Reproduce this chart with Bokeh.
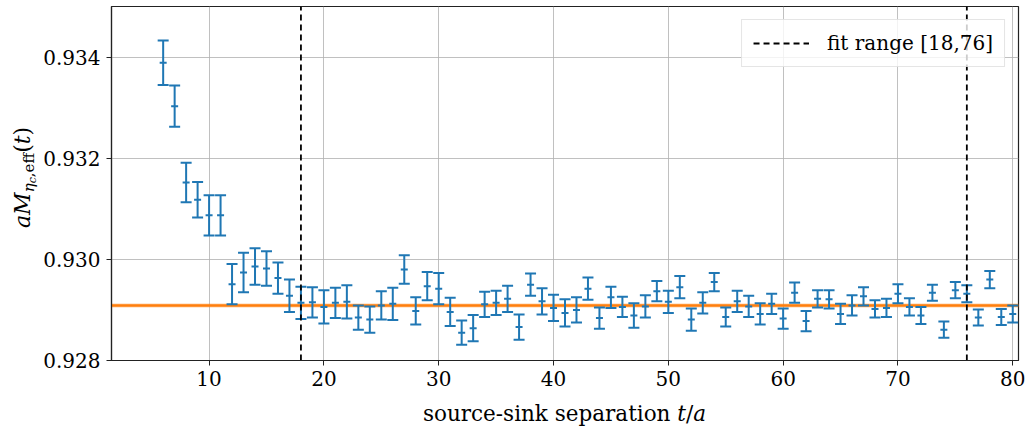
from bokeh.plotting import figure
from bokeh.layouts import row, column
from bokeh.models import Div, Range1d, FixedTicker, NumeralTickFormatter
from bokeh.embed import file_html
from bokeh.resources import INLINE

# ---------------- data ----------------
t = list(range(6, 81))
m_eff = [
    0.93389, 0.93303, 0.93152, 0.93118, 0.93087, 0.93087, 0.92951, 0.92974,
    0.92986, 0.92982, 0.92963, 0.92928, 0.92914, 0.92915, 0.92906, 0.92914,
    0.92916, 0.92885, 0.92881, 0.92909, 0.92912, 0.92980, 0.92898, 0.92947,
    0.92942, 0.92896, 0.92855, 0.92864, 0.92911, 0.92914, 0.92922, 0.92866,
    0.92950, 0.92917, 0.92904, 0.92894, 0.92900, 0.92942, 0.92884, 0.92925,
    0.92906, 0.92889, 0.92907, 0.92937, 0.92916, 0.92945, 0.92881, 0.92914,
    0.92955, 0.92886, 0.92917, 0.92907, 0.92892, 0.92912, 0.92883, 0.92934,
    0.92878, 0.92922, 0.92921, 0.92892, 0.92909, 0.92927, 0.92902, 0.92904,
    0.92932, 0.92906, 0.92889, 0.92934, 0.92861, 0.92939, 0.92932, 0.92885,
    0.92960, 0.92886, 0.92892,
]
m_err = [
    0.00044, 0.00041, 0.00039, 0.00035, 0.00040, 0.00040, 0.00040, 0.00039,
    0.00036, 0.00034, 0.00031, 0.00032, 0.00032, 0.00030, 0.00033, 0.00030,
    0.00033, 0.00024, 0.00026, 0.00028, 0.00032, 0.00028, 0.00027, 0.00028,
    0.00031, 0.00028, 0.00024, 0.00026, 0.00025, 0.00024, 0.00026, 0.00025,
    0.00022, 0.00026, 0.00026, 0.00027, 0.00025, 0.00022, 0.00021, 0.00021,
    0.00020, 0.00024, 0.00022, 0.00020, 0.00022, 0.00022, 0.00022, 0.00021,
    0.00018, 0.00019, 0.00021, 0.00021, 0.00021, 0.00020, 0.00020, 0.00020,
    0.00020, 0.00017, 0.00018, 0.00020, 0.00020, 0.00018, 0.00017, 0.00018,
    0.00019, 0.00017, 0.00017, 0.00016, 0.00016, 0.00016, 0.00017, 0.00016,
    0.00017, 0.00016, 0.00017,
]
fit_value = 0.929089
fit_error = 0.00004
fit_range = [18, 76]
fit_label = "fit range [18,76]"
x_ticks = [10, 20, 30, 40, 50, 60, 70, 80]
y_ticks = [0.928, 0.930, 0.932, 0.934]
x_lim = (1.5, 80.5)
y_lim = (0.928, 0.935)
x_title_html = "source-sink separation <i>t</i>/<i>a</i>"
y_title_html = ('<i>aM</i><sub style="font-size:15px;vertical-align:-0.25em;"><i>&#951;</i>'
                '<sub style="font-size:11px;vertical-align:-0.2em;"><i>c</i></sub>,eff</sub>'
                '(<i>t</i>)')

BLUE = "#1f77b4"
ORANGE = "#ff7f0e"
FONT = "DejaVu Serif"

W, H = 1026, 426
DIVW = 40          # width of the y-title column
XLABH = 30         # height of the x-title row
FL, FT, FW, FH = 111, 6, 907, 354
p = figure(frame_width=FW, frame_height=FH,
           x_range=Range1d(*x_lim), y_range=Range1d(*y_lim),
           output_backend="svg", toolbar_location=None,
           min_border_left=FL - DIVW, min_border_right=W - FL - FW,
           min_border_top=FT, min_border_bottom=H - XLABH - FT - FH)
p.background_fill_color = "white"
p.border_fill_color = "white"
p.outline_line_color = "#222222"
p.outline_line_width = 1.2

# grid
for g, tk in ((p.xgrid, x_ticks), (p.ygrid, y_ticks)):
    g.ticker = FixedTicker(ticks=tk)
    g.grid_line_color = "#b0b0b0"
    g.grid_line_width = 1
    g.grid_line_alpha = 0.8

# axes
p.xaxis.ticker = FixedTicker(ticks=x_ticks)
p.yaxis.ticker = FixedTicker(ticks=y_ticks)
p.yaxis.formatter = NumeralTickFormatter(format="0.000")
for ax in (p.xaxis[0], p.yaxis[0]):
    ax.axis_line_color = "#222222"
    ax.axis_line_width = 1.2
    ax.major_tick_line_color = "#222222"
    ax.major_tick_out = 5
    ax.major_tick_in = 0
    ax.minor_tick_out = 0
    ax.minor_tick_in = 0
    ax.major_label_text_font = FONT
    ax.major_label_text_font_size = "20px"
    ax.major_label_text_color = "black"
    ax.major_label_standoff = 6
p.xaxis.major_label_standoff = 5

# fit band and line
p.hstrip(y0=[fit_value - fit_error], y1=[fit_value + fit_error],
         fill_color=ORANGE, fill_alpha=0.35, line_color=None)
p.hspan(y=[fit_value], line_color=ORANGE, line_width=2.6)

# error bars
lo = [m - e for m, e in zip(m_eff, m_err)]
hi = [m + e for m, e in zip(m_eff, m_err)]
p.segment(x0=t, y0=lo, x1=t, y1=hi, line_color=BLUE, line_width=2)
p.scatter(x=t + t, y=lo + hi, marker="dash", size=11, line_color=BLUE, line_width=2)
p.scatter(x=t, y=m_eff, marker="dash", size=7, line_color=BLUE, line_width=2)

# fit range lines
p.segment(x0=fit_range, x1=fit_range, y0=[y_lim[0]] * 2, y1=[y_lim[1]] * 2,
          line_color="black", line_dash="6 4", line_width=1.8,
          legend_label=fit_label)

lg = p.legend[0]
lg.location = "top_right"
lg.margin = 13
lg.padding = 11
lg.glyph_width = 56
lg.label_standoff = 18
lg.label_text_font = FONT
lg.label_text_font_size = "20px"
lg.label_text_color = "black"
lg.border_line_color = "#cccccc"
lg.border_line_width = 1
lg.background_fill_alpha = 0.8

# y-axis title aM_{eta_c,eff}(t), as real HTML text with subscripts
ylab = Div(text=(
    f'<div style="position:relative;width:{DIVW}px;height:{H - XLABH}px;">'
    f'<div style="position:absolute;left:12px;top:228px;transform:rotate(-90deg);'
    f'transform-origin:left top;white-space:nowrap;font-family:\'{FONT}\';'
    f'font-size:22px;line-height:1;color:black;">{y_title_html}</div></div>'),
    width=DIVW, height=H - XLABH, margin=0)

# x-axis title with italic t/a
xlab = Div(text=(
    f'<div style="position:relative;width:{W}px;height:{XLABH}px;">'
    f'<div style="position:absolute;left:{FL}px;width:{FW}px;top:7px;text-align:center;'
    f'white-space:nowrap;font-family:\'{FONT}\';font-size:21.5px;line-height:1;'
    f'color:black;">{x_title_html}</div></div>'),
    width=W, height=XLABH, margin=0)

layout = column(row(ylab, p, spacing=0), xlab, spacing=0)
open("out.html", "w").write(file_html(layout, INLINE))
